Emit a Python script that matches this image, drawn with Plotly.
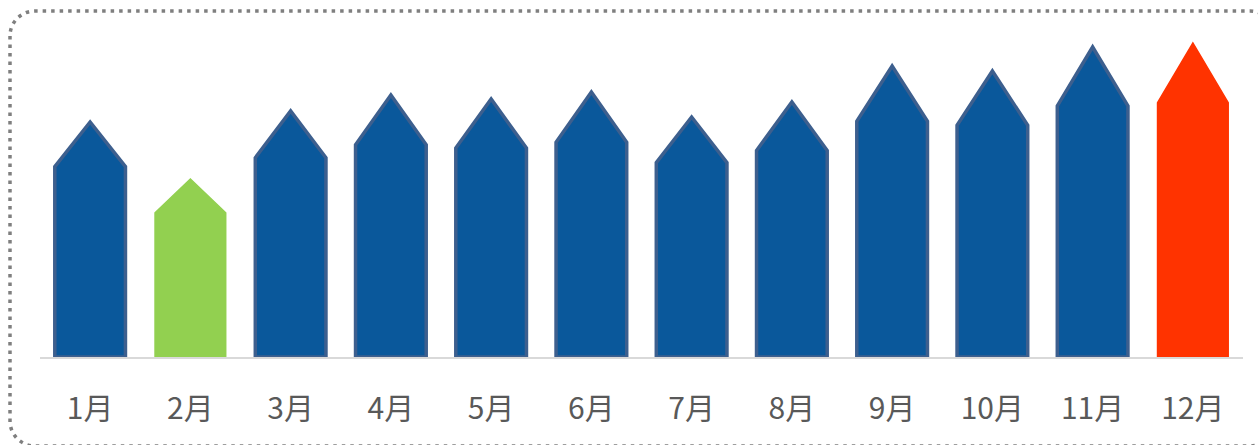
import plotly.graph_objects as go

# Monthly values (arbitrary units) and their axis labels
months = ["1月", "2月", "3月", "4月", "5月", "6月", "7月", "8月", "9月", "10月", "11月", "12月"]
values = [235, 178, 246, 262, 258, 265, 240, 255, 291, 286, 310, 314]
fill_colors = ["#0a589b", "#92d050", "#0a589b", "#0a589b", "#0a589b", "#0a589b",
               "#0a589b", "#0a589b", "#0a589b", "#0a589b", "#0a589b", "#ff3300"]
edge_colors = ["#3d5f8e", "#92d050", "#3d5f8e", "#3d5f8e", "#3d5f8e", "#3d5f8e",
               "#3d5f8e", "#3d5f8e", "#3d5f8e", "#3d5f8e", "#3d5f8e", "#ff3300"]

W, H = 1258, 445
ML, MR, MT, MB = 40, 15, 20, 88
Y_MAX = 337

BAR_W = 0.705      # width of each arrow in category units
SHOULDER = 0.81    # fraction of the height where the arrow head begins

fig = go.Figure()
for i, (v, fc, ec) in enumerate(zip(values, fill_colors, edge_colors)):
    x0, x1 = i - BAR_W / 2, i + BAR_W / 2
    s = v * SHOULDER
    edge_w = 3.5 if ec != fc else 1.5
    fig.add_trace(go.Scatter(
        x=[x0, x0, i, x1, x1, x0],
        y=[0, s, v, s, 0, 0],
        mode="lines",
        fill="toself",
        fillcolor=fc,
        line=dict(color=ec, width=edge_w),
        hoverinfo="skip",
        showlegend=False,
    ))

# Dotted rounded frame, defined in pixels and converted to paper coordinates
pw = W - ML - MR
ph = H - MT - MB


def px(x):
    return (x - ML) / pw


def py(y):
    return (H - MB - y) / ph


L, T, R, B, r = 10, 11, 1275, 446, 25
k = 0.5523 * r


def pt(x, y):
    return f"{px(x):.5f},{py(y):.5f}"


path = (
    f"M{pt(L, T + r)} L{pt(L, B - r)} "
    f"C{pt(L, B - r + k)} {pt(L + r - k, B)} {pt(L + r, B)} "
    f"L{pt(R - r, B)} "
    f"C{pt(R - r + k, B)} {pt(R, B - r + k)} {pt(R, B - r)} "
    f"L{pt(R, T + r)} "
    f"C{pt(R, T + r - k)} {pt(R - r + k, T)} {pt(R - r, T)} "
    f"L{pt(L + r, T)} "
    f"C{pt(L + r - k, T)} {pt(L, T + r - k)} {pt(L, T + r)} Z"
)
fig.add_shape(type="path", path=path, xref="paper", yref="paper",
              line=dict(color="#7f7f7f", width=3.5, dash="3.5px,5px"))

fig.update_layout(
    template="none",
    width=W, height=H, autosize=False,
    margin=dict(l=ML, r=MR, t=MT, b=MB, pad=0),
    paper_bgcolor="white", plot_bgcolor="white",
    font=dict(family="Microsoft YaHei, Noto Sans CJK SC, sans-serif", color="#595959"),
    xaxis=dict(
        range=[-0.5, 11.5], tickvals=list(range(len(months))), ticktext=months,
        showgrid=False, zeroline=False, showline=True, linecolor="#d9d9d9", linewidth=2,
        ticks="", ticklabelstandoff=24, tickfont=dict(size=30, color="#595959"),
        automargin=False, fixedrange=True,
    ),
    yaxis=dict(range=[0, Y_MAX], visible=False, showgrid=False, zeroline=False,
               automargin=False, fixedrange=True),
)

fig.write_html("out.html")
